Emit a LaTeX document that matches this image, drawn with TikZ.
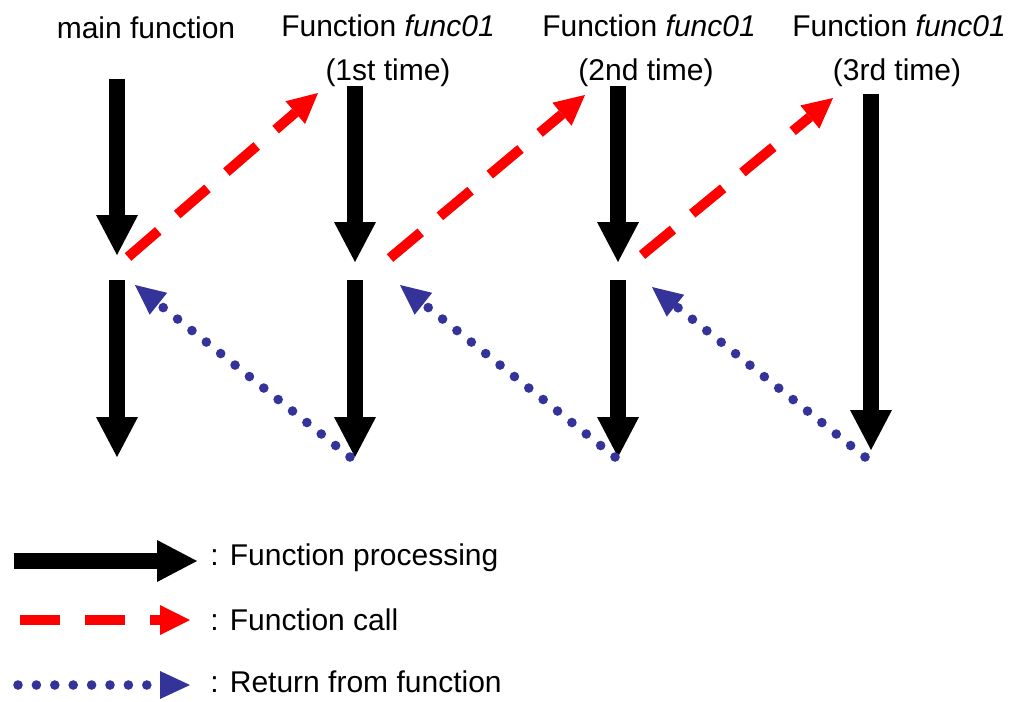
\documentclass[tikz,border=0pt]{standalone}
\usepackage{fontspec}
\setmainfont{Liberation Sans}
\usetikzlibrary{arrows.meta}
\definecolor{retblue}{RGB}{51,51,153}

\begin{document}
\begin{tikzpicture}
   [x=0.5pt, y=-0.5pt, font=\fontsize{15}{18}\selectfont,
    proc/.style={line width=8pt, -{Triangle[length=20pt,width=21pt,line width=0pt]}},
    call/.style={red, line width=5pt, dash pattern=on 20pt off 12.5pt,
                 -{Triangle[length=15pt,width=15pt,line width=0pt]}},
    ret/.style={retblue, line width=4.8pt, line cap=round, dash pattern=on 0pt off 9.2pt,
                -{Triangle[length=15pt,width=14pt,line width=0pt]}},
    title/.style={anchor=base, inner sep=0pt},
    legend/.style={anchor=base west, inner sep=0pt}]
   \useasboundingbox (0,0) rectangle (1015,701);

   \node[title] (tmain) at (146,39) {main function};
   \node[title] (ta) at (388,37) {Function \textit{func01}};
   \node[title] (ta2) at (388,81) {(1st time)};
   \node[title] (tb) at (649,37) {Function \textit{func01}};
   \node[title] (tb2) at (646,81) {(2nd time)};
   \node[title] (tc) at (899,37) {Function \textit{func01}};
   \node[title] (tc2) at (897,81) {(3rd time)};

   \coordinate (m0) at (117,79);  \coordinate (m1) at (117,255);
   \coordinate (m2) at (117,280); \coordinate (m3) at (117,457);
   \coordinate (a0) at (355,86);  \coordinate (a1) at (355,262);
   \coordinate (a2) at (355,280); \coordinate (a3) at (355,457);
   \coordinate (b0) at (618,86);  \coordinate (b1) at (618,262);
   \coordinate (b2) at (618,280); \coordinate (b3) at (618,457);
   \coordinate (c0) at (871,94);  \coordinate (c3) at (871,450);

   \draw[proc] (m0) -- (m1);
   \draw[proc] (m2) -- (m3);
   \draw[proc] (a0) -- (a1);
   \draw[proc] (a2) -- (a3);
   \draw[proc] (b0) -- (b1);
   \draw[proc] (b2) -- (b3);
   \draw[proc] (c0) -- (c3);

   \coordinate (ca0) at (128,257); \coordinate (ca1) at (318,93);
   \coordinate (cb0) at (390,258); \coordinate (cb1) at (585,95);
   \coordinate (cc0) at (642,255); \coordinate (cc1) at (833,98);
   \draw[call] (ca0) -- (ca1);
   \draw[call] (cb0) -- (cb1);
   \draw[call] (cc0) -- (cc1);

   \coordinate (ra0) at (350,457); \coordinate (ra1) at (135,285);
   \coordinate (rb0) at (615,457); \coordinate (rb1) at (400,285);
   \coordinate (rc0) at (865,457); \coordinate (rc1) at (652,287);
   \draw[ret] (ra0) -- (ra1);
   \draw[ret] (rb0) -- (rb1);
   \draw[ret] (rc0) -- (rc1);

   \coordinate (lp0) at (14,561);  \coordinate (lp1) at (197,561);
   \coordinate (lc0) at (20,620);  \coordinate (lc1) at (190,620);
   \coordinate (lr0) at (18,685);  \coordinate (lr1) at (190,685);
   \draw[proc] (lp0) -- (lp1);
   \draw[call] (lc0) -- (lc1);
   \draw[ret] (lr0) -- (lr1);
   \node[legend] (lpt) at (210,565) {: Function processing};
   \node[legend] (lct) at (210,630) {: Function call};
   \node[legend] (lrt) at (210,692) {: Return from function};
\end{tikzpicture}
\end{document}
